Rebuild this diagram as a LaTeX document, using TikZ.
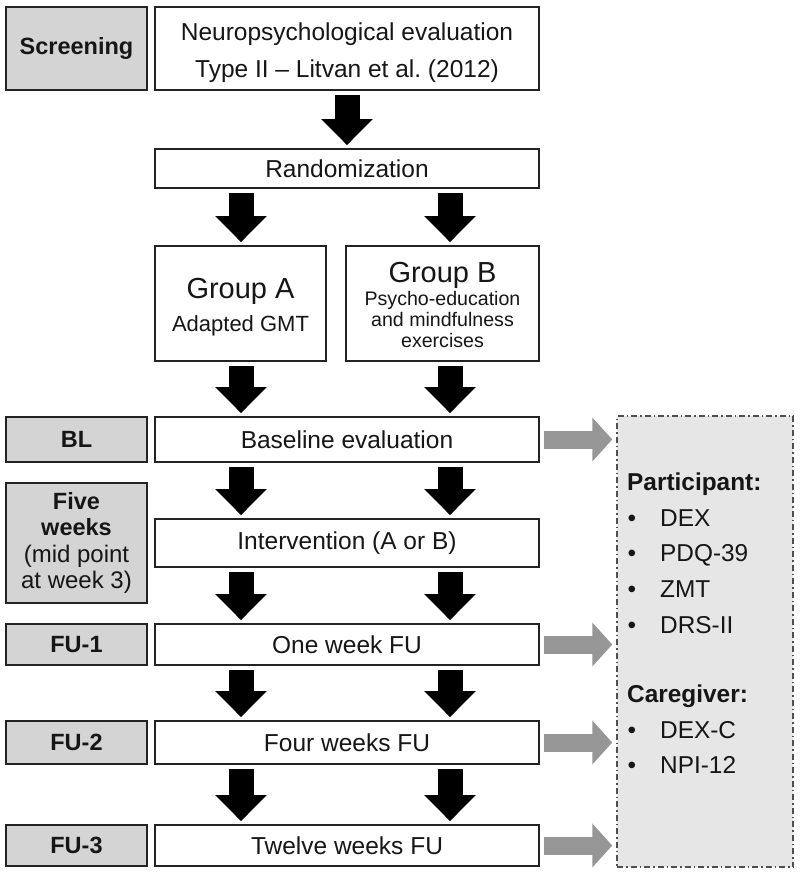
\documentclass[tikz,border=0pt]{standalone}
\usepackage{fontspec}
\setmainfont{Liberation Sans}
\usetikzlibrary{arrows.meta}
\definecolor{lblfill}{RGB}{212,212,212}
\definecolor{dfill}{RGB}{230,230,230}
\definecolor{garrow}{RGB}{150,150,150}
\definecolor{edgec}{RGB}{35,35,35}
\definecolor{txtc}{RGB}{22,22,22}
\newcommand{\fsz}[2]{\fontsize{#1}{#2}\selectfont}
\newcommand{\bul}{\makebox[33pt][l]{\hspace{0.5pt}•}}
\newcommand{\topstrut}[1]{\rule{0pt}{#1}}
\begin{document}
\begin{tikzpicture}[x=1pt,y=-1pt,
  wbox/.style={draw=edgec, line width=1.8pt, fill=white, inner sep=0pt, align=center, text=txtc, font=\fsz{24.5}{37.5}},
  lbox/.style={wbox, fill=lblfill, font=\bfseries\fsz{23.5}{26.5}},
  dbox/.style={draw=edgec!80, fill=dfill, line width=1.5pt, dash pattern=on 6pt off 3pt on 1.5pt off 3pt, inner sep=0pt},
  bigarrow/.style={draw=black, line width=25pt, -{Triangle[width=50pt,length=26pt]}, shorten <=4pt, shorten >=3pt},
  grayarrow/.style={draw=garrow, line width=18pt, -{Triangle[width=43pt,length=20pt,fill=garrow]}, shorten <=4pt, shorten >=4pt},
  rtext/.style={anchor=base west, inner sep=0pt, text=txtc, font=\fsz{24.4}{28}},
]
\useasboundingbox (0,0) rectangle (800,873);
% left labels
\node[lbox, minimum width=141pt, minimum height=83pt] (screen) at (76.5,48.5) {Screening};
\node[lbox, minimum width=141pt, minimum height=45pt] (bllbl) at (76.5,439.5) {BL};
\node[lbox, minimum width=141pt, minimum height=120pt] (fivelbl) at (76.5,543) {Five\\weeks\\\normalfont\fsz{24}{26.5}(mid point\\\normalfont\fsz{24}{26.5}at week 3)};
\node[lbox, minimum width=141pt, minimum height=41pt] (fu1lbl) at (76.5,644.5) {FU-1};
\node[lbox, minimum width=141pt, minimum height=43pt] (fu2lbl) at (76.5,742.5) {FU-2};
\node[lbox, minimum width=141pt, minimum height=41pt] (fu3lbl) at (76.5,845.5) {FU-3};
% main boxes
\node[wbox, minimum width=384pt, minimum height=83pt] (neuro) at (347,48.5) {\topstrut{26pt}Neuropsychological evaluation\\Type II -- Litvan et al.\ (2012)};
\node[wbox, minimum width=384pt, minimum height=39pt] (rand) at (347,168.5) {Randomization};
\node[wbox, minimum width=171pt, minimum height=115pt, font=\fsz{22}{33.3}] (groupA) at (240.5,303.5) {\fsz{29}{33.3}\topstrut{28pt}Group A\\Adapted GMT};
\node[wbox, minimum width=193pt, minimum height=115pt, font=\fsz{19.6}{21.2}] (groupB) at (442.5,303.5) {\fsz{29}{21.2}\topstrut{24pt}Group B\\[1.5pt]Psycho-education\\and mindfulness\\exercises};
\node[wbox, minimum width=384pt, minimum height=45pt] (base) at (347,439.5) {Baseline evaluation};
\node[wbox, minimum width=384pt, minimum height=48pt] (interv) at (347,543) {Intervention (A or B)};
\node[wbox, minimum width=384pt, minimum height=41pt] (fu1) at (347,644.5) {One week FU};
\node[wbox, minimum width=384pt, minimum height=43pt] (fu2) at (347,742.5) {Four weeks FU};
\node[wbox, minimum width=384pt, minimum height=41pt] (fu3) at (347,845.5) {Twelve weeks FU};
% measures box
\node[dbox, minimum width=176pt, minimum height=451pt] (meas) at (705,641.5) {};
\node[rtext, font=\bfseries\fsz{24.4}{28}] (ptitle) at (627,490) {Participant:};
\node[rtext] (m1) at (627,526) {\bul DEX};
\node[rtext] (m2) at (627,561) {\bul PDQ-39};
\node[rtext] (m3) at (627,597) {\bul ZMT};
\node[rtext] (m4) at (627,633) {\bul DRS-II};
\node[rtext, font=\bfseries\fsz{24.4}{28}] (ctitle) at (627,702) {Caregiver:};
\node[rtext] (m5) at (627,738) {\bul DEX-C};
\node[rtext] (m6) at (627,773) {\bul NPI-12};
% arrow columns
\coordinate (colL) at (241,0);
\coordinate (colR) at (450,0);
% black arrows
\draw[bigarrow] (neuro.south) -- (rand.north);
\foreach \c in {colL,colR}{
  \draw[bigarrow] (\c |- rand.south) -- (\c |- groupA.north);
  \draw[bigarrow] (\c |- groupA.south) -- (\c |- base.north);
  \draw[bigarrow] (\c |- base.south) -- (\c |- interv.north);
  \draw[bigarrow] (\c |- interv.south) -- (\c |- fu1.north);
  \draw[bigarrow] (\c |- fu1.south) -- (\c |- fu2.north);
  \draw[bigarrow] (\c |- fu2.south) -- (\c |- fu3.north);
}
% gray arrows
\draw[grayarrow] (base.east) -- (base.east -| meas.west);
\draw[grayarrow] (fu1.east) -- (fu1.east -| meas.west);
\draw[grayarrow] (fu2.east) -- (fu2.east -| meas.west);
\draw[grayarrow] (fu3.east) -- (fu3.east -| meas.west);
\end{tikzpicture}
\end{document}
